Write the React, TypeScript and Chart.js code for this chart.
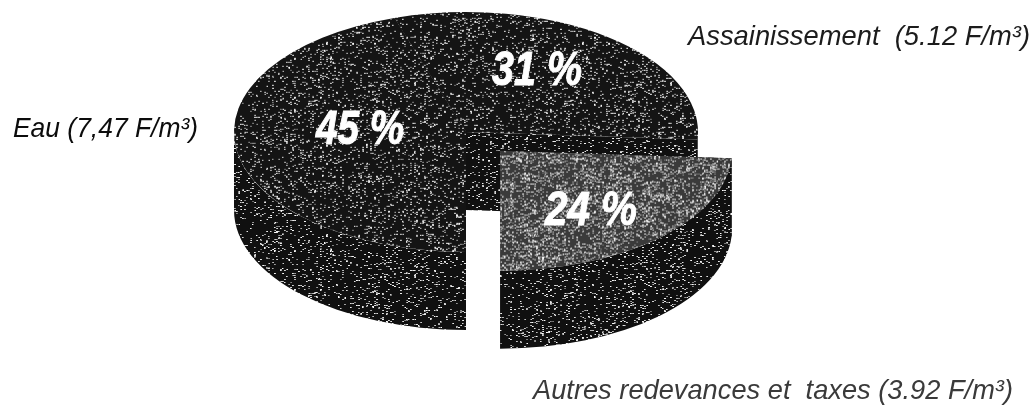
import React, { useEffect, useRef } from "react";
import { Chart, registerables } from "chart.js";

Chart.register(...registerables);

// Share of the water bill, in percent, and the name printed beside each share.
const shares = [45, 31, 24];
const names = ["Eau (7,47 F/m³)", "Assainissement  (5.12 F/m³)", "Autres redevances et  taxes (3.92 F/m³)"];
const explodedOffsets = [0, 0, 199];

const WIDTH = 1034;
const HEIGHT = 405;
const SQUASH = 0.517; // vertical foreshortening of the disc
const DEPTH = 78; // height of the cylinder wall, in pixels

// Deterministic speckle so the print grain is the same on every render.
function grain(x: number, y: number) {
  const s = Math.sin(x * 12.9898 + y * 78.233) * 43758.5453;
  return s - Math.floor(s);
}

function makeTexture(ctx: CanvasRenderingContext2D, base: number, density: number, flatten = 1) {
  const size = 256;
  const tile = document.createElement("canvas");
  tile.width = size;
  tile.height = size;
  const t = tile.getContext("2d")!;
  const img = t.createImageData(size, size);
  for (let y = 0; y < size; y++) {
    for (let x = 0; x < size; x++) {
      const clump = grain(Math.floor(x / 14), Math.floor(y / 9) + 300);
      const fine = grain(Math.floor(x / 2) + 17, y);
      const on = fine < density * (0.55 + 0.9 * clump);
      const v = on ? 100 + 155 * grain(x + 91, y + 13) : base;
      const i = (y * size + x) * 4;
      img.data[i] = img.data[i + 1] = img.data[i + 2] = v;
      img.data[i + 3] = 255;
    }
  }
  t.putImageData(img, 0, 0);
  const pattern = ctx.createPattern(tile, "repeat")!;
  if (flatten !== 1) pattern.setTransform(new DOMMatrix().scale(1, flatten));
  return pattern;
}

// Draws the cylinder wall under each slice, before the slices themselves.
function drawWalls(chart: any, sidePattern: CanvasPattern) {
  const { ctx } = chart;
  const arcs = chart.getDatasetMeta(0).data;
  const order = arcs.map((_: any, i: number) => i).sort((a: number, b: number) => explodedOffsets[a] - explodedOffsets[b]);
  for (const i of order) {
    const arc = arcs[i];
    const { x, y, startAngle, endAngle, outerRadius } = arc.getProps(["x", "y", "startAngle", "endAngle", "outerRadius"], true);
    const mid = (startAngle + endAngle) / 2;
    const shift = explodedOffsets[i] / 4;
    const cx = x + Math.cos(mid) * shift;
    const cy = y + Math.sin(mid) * shift * SQUASH;
    const rx = outerRadius;
    const ry = outerRadius * SQUASH;
    ctx.fillStyle = sidePattern;
    for (const angle of [startAngle, endAngle]) {
      const ex = cx + Math.cos(angle) * rx;
      const ey = cy + Math.sin(angle) * ry;
      ctx.beginPath();
      ctx.moveTo(cx, cy);
      ctx.lineTo(ex, ey);
      ctx.lineTo(ex, ey + DEPTH);
      ctx.lineTo(cx, cy + DEPTH);
      ctx.closePath();
      ctx.fill();
    }
    for (const base of [0, Math.PI * 2]) {
      const a = Math.max(startAngle, base);
      const b = Math.min(endAngle, base + Math.PI);
      if (a >= b) continue;
      ctx.beginPath();
      ctx.ellipse(cx, cy, rx, ry, 0, a, b);
      ctx.ellipse(cx, cy + DEPTH, rx, ry, 0, b, a, true);
      ctx.closePath();
      ctx.fill();
    }
  }
}

const tiltPlugin = {
  id: "tilt",
  beforeDatasetsDraw(chart: any, _args: any, opts: any) {
    const { ctx } = chart;
    drawWalls(chart, opts.sidePattern);
    const { x, y } = chart.getDatasetMeta(0).data[0];
    ctx.save();
    ctx.translate(x, y);
    ctx.scale(1, SQUASH);
    ctx.translate(-x, -y);
  },
  afterDatasetsDraw(chart: any) {
    chart.ctx.restore();
  },
};

const percentAnchors = [
  [360, 131, 88],
  [537, 72, 90],
  [591, 212, 92],
];
const nameAnchors = [
  [13, 137, 185],
  [688, 45, 342],
  [533, 399, 480],
];
const nameColors = ["#0c0c0c", "#1c1c1c", "#3a3a3a"];

const textPlugin = {
  id: "pieText",
  afterDraw(chart: any) {
    const { ctx } = chart;
    ctx.save();
    ctx.textBaseline = "middle";
    ctx.textAlign = "center";
    ctx.fillStyle = "#ffffff";
    ctx.strokeStyle = "#ffffff";
    ctx.lineWidth = 1;
    ctx.font = 'italic bold 48px "Liberation Sans"';
    shares.forEach((share, i) => {
      const [x, y, w] = percentAnchors[i];
      ctx.fillText(`${share} %`, x, y, w);
      ctx.strokeText(`${share} %`, x, y, w);
    });
    ctx.textBaseline = "alphabetic";
    ctx.textAlign = "left";
    ctx.font = 'italic 28px "Liberation Sans"';
    names.forEach((name, i) => {
      const [x, y, w] = nameAnchors[i];
      ctx.fillStyle = nameColors[i];
      ctx.fillText(name, x, y, w);
    });
    ctx.restore();
  },
};

export default function App() {
  const ref = useRef<HTMLCanvasElement>(null);

  useEffect(() => {
    const canvas = ref.current!;
    const ctx = canvas.getContext("2d")!;
    const bodyFace = makeTexture(ctx, 20, 0.14, 1 / SQUASH);
    const liftedFace = makeTexture(ctx, 58, 0.32, 1 / SQUASH);
    const side = makeTexture(ctx, 16, 0.12);
    const chart = new Chart(canvas, {
      type: "pie",
      data: {
        labels: names,
        datasets: [
          {
            data: shares,
            backgroundColor: [bodyFace, bodyFace, liftedFace],
            borderWidth: 0,
            offset: explodedOffsets,
            radius: 232,
            clip: false,
          } as any,
        ],
      },
      options: {
        animation: false,
        responsive: false,
        rotation: 180,
        layout: { padding: { right: 102, bottom: 141 } },
        plugins: {
          legend: { display: false },
          tooltip: { enabled: false },
          tilt: { sidePattern: side },
        } as any,
      },
      plugins: [tiltPlugin, textPlugin],
    });
    return () => chart.destroy();
  }, []);

  return (
    <div style={{ position: "fixed", left: 0, top: 0, width: WIDTH, height: HEIGHT, background: "#ffffff" }}>
      <canvas ref={ref} width={WIDTH} height={HEIGHT} style={{ display: "block" }} />
    </div>
  );
}
